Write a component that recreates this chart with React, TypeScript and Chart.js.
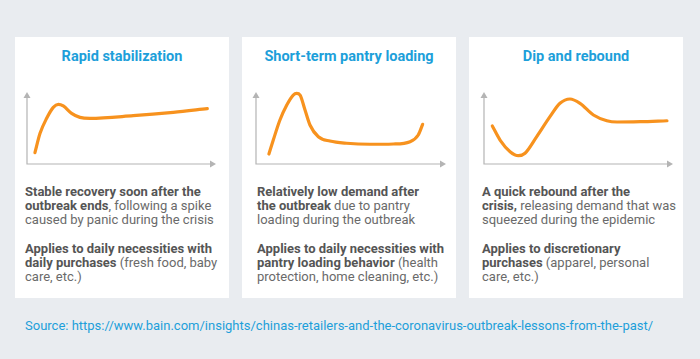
import React, { useEffect, useRef } from "react";
import { Chart, registerables } from "chart.js";

Chart.register(...registerables);

// ---- Data (conceptual demand curves) ----
const rapidX = [4.2, 6.9, 10.4, 13.9, 16.6, 19.2, 23.6, 28.0, 33.3, 56.2, 77.4, 95.4];
const rapidY = [15.7, 42.6, 63.5, 78.7, 82.9, 80.6, 70.4, 64.8, 63.4, 67.1, 71.8, 76.8];

const pantryX = [6.8, 9.1, 12.6, 16.2, 19.6, 21.4, 23.2, 25.8, 28.4, 32.8, 38.9, 47.7, 60.0, 72.3, 81.1, 85.4, 87.7];
const pantryY = [13.9, 33.3, 61.1, 81.9, 95.8, 98.2, 95.8, 75.0, 54.2, 37.9, 31.9, 28.8, 27.4, 27.8, 31.0, 40.3, 55.1];

const dipX = [4.4, 8.5, 13.8, 18.2, 21.7, 27.9, 34.9, 40.2, 45.5, 50.8, 57.9, 65.0, 70.4, 82.7, 96.8];
const dipY = [52.8, 33.3, 17.1, 11.5, 14.9, 38.0, 65.7, 84.3, 90.3, 84.3, 68.1, 60.1, 58.3, 58.8, 60.1];

const titles = ["Rapid stabilization", "Short-term pantry loading", "Dip and rebound"];
const sourceText =
  "Source: https://www.bain.com/insights/chinas-retailers-and-the-coronavirus-outbreak-lessons-from-the-past/";

const BLUE = "#1d9fda";
const ORANGE = "#f7921e";
const AXIS = "#b4b4b4";
const FONT = "Roboto, 'Open Sans', sans-serif";

const arrowAxes = {
  id: "arrowAxes",
  afterDatasetsDraw(chart: any) {
    const { ctx, chartArea } = chart;
    const x0 = chartArea.left;
    const y0 = chartArea.bottom;
    const x1 = chartArea.right;
    const y1 = chartArea.top;
    ctx.save();
    ctx.strokeStyle = AXIS;
    ctx.fillStyle = AXIS;
    ctx.lineWidth = 1.2;
    ctx.beginPath();
    ctx.moveTo(x0, y1 + 4);
    ctx.lineTo(x0, y0);
    ctx.lineTo(x1 - 4, y0);
    ctx.stroke();
    ctx.beginPath();
    ctx.moveTo(x0, y1);
    ctx.lineTo(x0 - 3.5, y1 + 6);
    ctx.lineTo(x0 + 3.5, y1 + 6);
    ctx.closePath();
    ctx.fill();
    ctx.beginPath();
    ctx.moveTo(x1, y0);
    ctx.lineTo(x1 - 6, y0 - 3.5);
    ctx.lineTo(x1 - 6, y0 + 3.5);
    ctx.closePath();
    ctx.fill();
    ctx.restore();
  },
};

function MiniChart({ xs, ys, left, top, width, height }: any) {
  const ref = useRef<HTMLCanvasElement>(null);
  useEffect(() => {
    const data = xs.map((x: number, i: number) => ({ x, y: ys[i] }));
    const chart = new Chart(ref.current as HTMLCanvasElement, {
      type: "line",
      data: {
        datasets: [
          {
            data,
            borderColor: ORANGE,
            borderWidth: 3.2,
            pointRadius: 0,
            tension: 0.4,
            cubicInterpolationMode: "monotone",
            fill: false,
            clip: false as any,
            borderCapStyle: "round",
          },
        ],
      },
      options: {
        animation: false,
        responsive: false,
        maintainAspectRatio: false,
        layout: { padding: 6 },
        plugins: { legend: { display: false }, tooltip: { enabled: false } },
        scales: {
          x: { type: "linear", min: 0, max: 100, display: false },
          y: { type: "linear", min: 0, max: 100, display: false },
        },
      },
      plugins: [arrowAxes],
    });
    return () => chart.destroy();
  }, []);
  return (
    <canvas
      ref={ref}
      width={width}
      height={height}
      style={{ position: "absolute", left, top, width, height }}
    />
  );
}

const B = ({ children }: any) => <span style={{ fontWeight: 700, color: "#555" }}>{children}</span>;

function Card({ left, title, textLeft, children }: any) {
  return (
    <>
      <div
        style={{
          position: "absolute",
          left,
          top: 37,
          width: 214,
          height: 261,
          background: "#ffffff",
        }}
      />
      <div
        style={{
          position: "absolute",
          left,
          top: 48,
          width: 214,
          textAlign: "center",
          fontFamily: FONT,
          fontWeight: 700,
          fontSize: 14.5,
          lineHeight: "18px",
          color: BLUE,
        }}
      >
        {title}
      </div>
      <div
        style={{
          position: "absolute",
          left: textLeft,
          top: 185,
          width: 205,
          fontFamily: FONT,
          fontSize: 13,
          lineHeight: "14px",
          color: "#6a6a6a",
          whiteSpace: "nowrap",
        }}
      >
        {children}
      </div>
    </>
  );
}

export default function App() {
  return (
    <div
      style={{
        position: "absolute",
        left: 0,
        top: 0,
        width: 700,
        height: 359,
        background: "#e9ecf0",
        overflow: "hidden",
      }}
    >
      <Card left={15} title={titles[0]} textLeft={25}>
        <div>
          <B>Stable recovery soon after the</B>
          <br />
          <B>outbreak ends</B>, following a spike
          <br />
          caused by panic during the crisis
        </div>
        <div style={{ marginTop: 15 }}>
          <B>Applies to daily necessities with</B>
          <br />
          <B>daily purchases</B> (fresh food, baby
          <br />
          care, etc.)
        </div>
      </Card>
      <Card left={242} title={titles[1]} textLeft={257}>
        <div>
          <B>Relatively low demand after</B>
          <br />
          <B>the outbreak</B> due to pantry
          <br />
          loading during the outbreak
        </div>
        <div style={{ marginTop: 15 }}>
          <B>Applies to daily necessities with</B>
          <br />
          <B>pantry loading behavior</B> (health
          <br />
          protection, home cleaning, etc.)
        </div>
      </Card>
      <Card left={469} title={titles[2]} textLeft={482}>
        <div>
          <B>A quick rebound after the</B>
          <br />
          <B>crisis,</B> releasing demand that was
          <br />
          squeezed during the epidemic
        </div>
        <div style={{ marginTop: 15 }}>
          <B>Applies to discretionary</B>
          <br />
          <B>purchases</B> (apparel, personal
          <br />
          care, etc.)
        </div>
      </Card>

      <MiniChart xs={rapidX} ys={rapidY} left={21} top={86} width={201} height={84} />
      <MiniChart xs={pantryX} ys={pantryY} left={250} top={86} width={202} height={84} />
      <MiniChart xs={dipX} ys={dipY} left={478} top={86} width={201} height={84} />

      <div
        style={{
          position: "absolute",
          left: 25,
          top: 318,
          fontFamily: FONT,
          fontSize: 13,
          lineHeight: "16px",
          color: BLUE,
          whiteSpace: "nowrap",
        }}
      >
        {sourceText}
      </div>
    </div>
  );
}
